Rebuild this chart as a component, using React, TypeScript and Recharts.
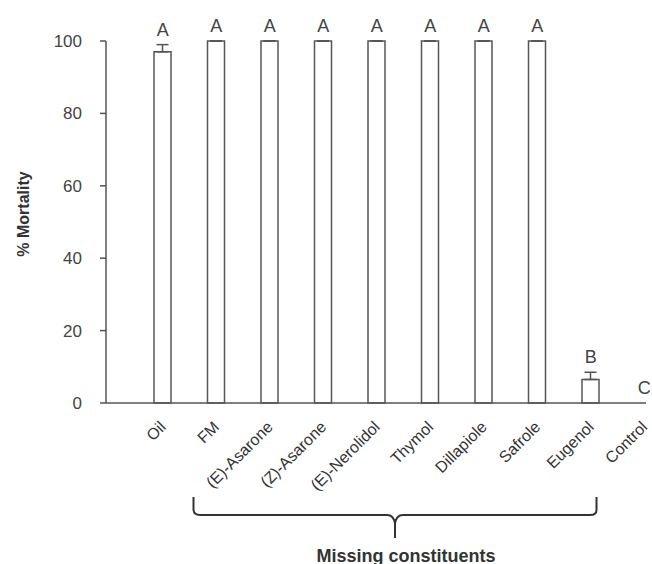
import React from 'react';
import { ComposedChart, Bar, Line, XAxis, YAxis, ErrorBar, LabelList } from 'recharts';

const categories = ['Oil', 'FM', '(E)-Asarone', '(Z)-Asarone', '(E)-Nerolidol', 'Thymol', 'Dillapiole', 'Safrole', 'Eugenol', 'Control'];
const mortality = [97, 100, 100, 100, 100, 100, 100, 100, 6.5, 0];
const errors = [2, 0, 0, 0, 0, 0, 0, 0, 2, 0];
const letters = ['A', 'A', 'A', 'A', 'A', 'A', 'A', 'A', 'B', 'C'];
const yTicks = [0, 20, 40, 60, 80, 100];

const FONT = '"Liberation Sans", Arial, sans-serif';
const INK = '#444';

const data = categories.map((name, i) => ({
  name,
  mortality: mortality[i],
  err: [0, errors[i]],
  top: mortality[i] + errors[i],
  letter: letters[i],
}));

// rotated category labels, anchored at their right end
const XTick = (props: any) => {
  const { x, y, payload } = props;
  const ax = x + 4;
  const ay = y + 25;
  return (
    <text
      x={ax}
      y={ay}
      transform={`rotate(-45, ${ax}, ${ay})`}
      textAnchor="end"
      fontSize={16}
      fontFamily={FONT}
      fill="#333"
    >
      {payload.value}
    </text>
  );
};

// significance letter above bar + error bar
const LetterLabel = (props: any) => {
  const { x, y, index } = props;
  return (
    <text x={x} y={y - 9} textAnchor="middle" fontSize={18} fontFamily={FONT} fill={INK}>
      {letters[index]}
    </text>
  );
};

export default function App() {
  return (
    <div style={{ position: 'absolute', left: 0, top: 0, width: 652, height: 564, background: '#fff' }}>
      <ComposedChart
        width={652}
        height={564}
        data={data}
        margin={{ top: 41, right: 6, bottom: 0, left: 0 }}
      >
        <XAxis
          dataKey="name"
          height={161}
          interval={0}
          tickLine={false}
          tickSize={0}
          tickMargin={0}
          padding={{ left: 30, right: -25 }}
          axisLine={{ stroke: '#555', strokeWidth: 1.5 }}
          tick={<XTick />}
        />
        <YAxis
          width={106}
          domain={[0, 100]}
          ticks={yTicks}
          tickSize={6}
          tickMargin={18}
          axisLine={{ stroke: '#555', strokeWidth: 1.5 }}
          tickLine={{ stroke: '#555', strokeWidth: 1.5 }}
          tick={{ fontSize: 17, fill: INK, fontFamily: FONT }}
        />
        <Bar
          dataKey="mortality"
          barSize={17}
          fill="#fff"
          stroke="#555"
          strokeWidth={1.5}
          isAnimationActive={false}
        >
          <ErrorBar dataKey="err" width={6} stroke="#555" strokeWidth={1.5} />
        </Bar>
        <Line
          dataKey="top"
          stroke="none"
          dot={false}
          activeDot={false}
          isAnimationActive={false}
        >
          <LabelList dataKey="letter" content={<LetterLabel />} />
        </Line>
      </ComposedChart>
      <svg
        width={652}
        height={564}
        style={{ position: 'absolute', left: 0, top: 0, pointerEvents: 'none' }}
      >
        <text
          transform="translate(23, 214) rotate(-90)"
          textAnchor="middle"
          dominantBaseline="central"
          fontSize={16}
          fontWeight="bold"
          fontFamily={FONT}
          fill="#333"
        >
          % Mortality
        </text>
        <path
          d="M193.5 497 V510 Q194 515 200 515 H387 Q394 515 395 524 V538 M395 524 Q396 515 403 515 H590 Q596.5 515 596.5 510 V497"
          fill="none"
          stroke="#333"
          strokeWidth={2}
        />
        <text
          x={406}
          y={561.5}
          textAnchor="middle"
          fontSize={18}
          fontWeight="bold"
          fontFamily={FONT}
          fill="#333"
        >
          Missing constituents
        </text>
      </svg>
    </div>
  );
}
